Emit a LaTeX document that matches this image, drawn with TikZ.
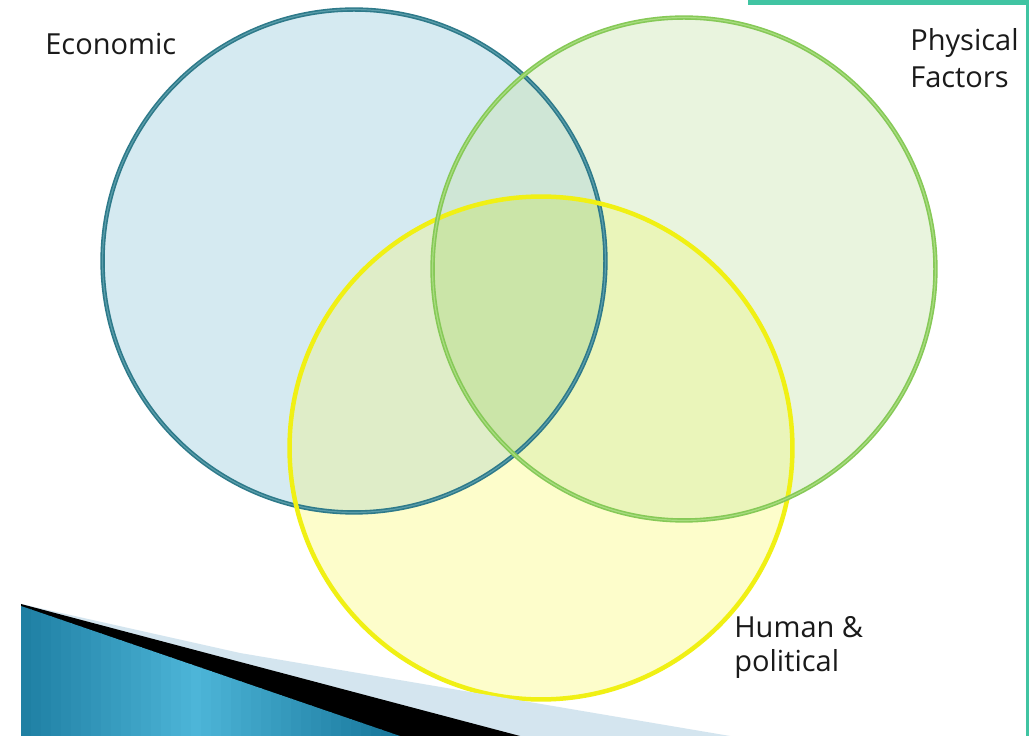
\documentclass[tikz,border=0pt]{standalone}
\usepackage{fontspec}
\setmainfont{Open Sans}
\definecolor{Eonly}{HTML}{D5EAF1}
\definecolor{Ponly}{HTML}{E9F4DE}
\definecolor{Yonly}{HTML}{FDFDCB}
\definecolor{EPcol}{HTML}{CFE6D6}
\definecolor{EYcol}{HTML}{DFEDC8}
\definecolor{PYcol}{HTML}{EAF5BA}
\definecolor{EPYcol}{HTML}{CBE5A8}
\definecolor{Estroke}{HTML}{2E7A8A}
\definecolor{Einner}{HTML}{5A9DAA}
\definecolor{Pstroke}{HTML}{86C957}
\definecolor{Pinner}{HTML}{A8DC80}
\definecolor{Ystroke}{HTML}{F0F014}
\definecolor{accent}{HTML}{40C4A2}
\definecolor{tealdark}{HTML}{17769A}
\definecolor{teallight}{HTML}{4DB5D8}
\definecolor{paleband}{HTML}{D4E5EF}
\definecolor{txt}{HTML}{1A1A1A}
\tikzset{
  ring/.style={line width=0.08cm},
  dring/.style={line width=0.032cm, double distance=0.024cm},
  lbl/.style={text=txt, inner sep=0pt, align=left},
}
\begin{document}
\begin{tikzpicture}[x=0.02cm, y=-0.02cm]
\fill[white] (0,0) rectangle (1029,736);
\useasboundingbox (0,0) rectangle (1029,736);
\coordinate (cE) at (354,261);
\coordinate (cP) at (684,269);
\coordinate (cY) at (541,448);
\def\rr{5.03cm}
% region fills
\fill[Eonly] (cE) circle[radius=\rr];
\fill[Ponly] (cP) circle[radius=\rr];
\fill[Yonly] (cY) circle[radius=\rr];
\begin{scope}\clip (cE) circle[radius=\rr]; \fill[EPcol] (cP) circle[radius=\rr];\end{scope}
\begin{scope}\clip (cE) circle[radius=\rr]; \fill[EYcol] (cY) circle[radius=\rr];\end{scope}
\begin{scope}\clip (cP) circle[radius=\rr]; \fill[PYcol] (cY) circle[radius=\rr];\end{scope}
\begin{scope}\clip (cE) circle[radius=\rr]; \clip (cP) circle[radius=\rr]; \fill[EPYcol] (cY) circle[radius=\rr];\end{scope}
% outlines
\draw[dring, draw=Estroke, double=Einner] (cE) circle[radius=\rr];
\draw[ring, Ystroke, line width=0.09cm] (cY) circle[radius=\rr];
\draw[dring, draw=Pstroke, double=Pinner] (cP) circle[radius=\rr];
% bottom-left decorative wedges
\fill[paleband] (21,604) -- (240,653) -- (730,736) -- (21,736) -- cycle;
\fill[black] (21,604) -- (520,736) -- (21,736) -- cycle;
\begin{scope}
  \clip (21,606) -- (400,736) -- (21,736) -- cycle;
  \foreach \i in {0,...,37} {
    \pgfmathsetmacro{\xa}{21+10*\i}
    \pgfmathsetmacro{\pp}{100*abs(\i-17)/20}
    \colorlet{stripcol}{tealdark!\pp!teallight}
    \fill[stripcol] (\xa,600) rectangle ({\xa+10.6},736);
  }
\end{scope}
% accent bar and edge
\fill[accent] (748,0) rectangle (1029,5);
\fill[accent] (1026,0) rectangle (1029,736);
% labels
\node[lbl, anchor=base west, font=\fontsize{16.5}{20}\selectfont] (econ) at (45,55) {Economic};
\node[lbl, anchor=base west, font=\fontsize{16.5}{21.5}\selectfont] (phys) at (910,88) {Physical\\Factors};
\node[lbl, anchor=base west, font=\fontsize{16.5}{19.5}\selectfont] (human) at (734,672) {Human \&\\political};
\end{tikzpicture}
\end{document}
